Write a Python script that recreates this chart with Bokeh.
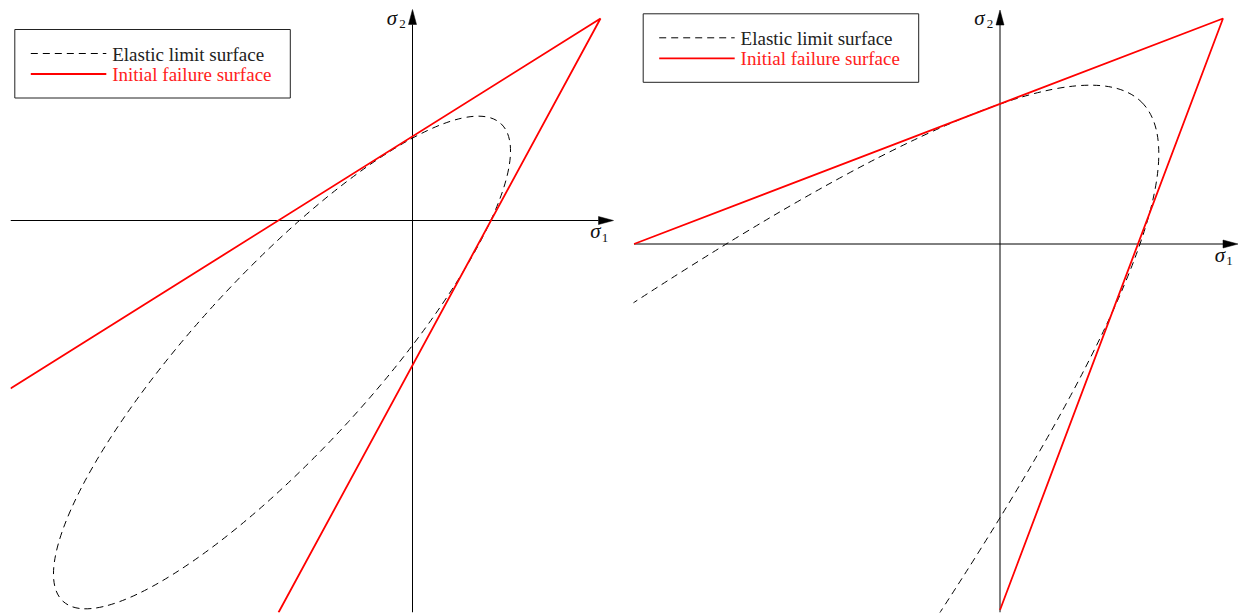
from bokeh.plotting import figure
from bokeh.layouts import row
from bokeh.models import Range1d
from bokeh.core.properties import value
from bokeh.embed import file_html
from bokeh.resources import INLINE

# ---------------------------------------------------------------
# Stress-plane data (sigma_1, sigma_2), arbitrary stress units
# ---------------------------------------------------------------
# Left: initial failure envelope (two straight branches meeting at the apex)
fail_left_s1 = [-402, 188, -134]
fail_left_s2 = [-168, 202, -392]
# Left: elastic limit surface (rotated ellipse)
elastic_left_center = (-130.5, -142.0)
elastic_left_size = (648, 178)        # major / minor axis lengths
elastic_left_angle = 47.5             # degrees

# Right: initial failure envelope
fail_right_s1 = [-366, 223, 0]
fail_right_s2 = [0, 225.5, -366]
# Right: elastic limit surface (very elongated ellipse, partly outside the view)
elastic_right_center = (-5822, -5822)
elastic_right_size = (16868, 1283)
elastic_right_angle = 45.0

# Coordinate axes: (start, tip) along sigma_1 and sigma_2
axis_left_s1 = (-402, 201)
axis_left_s2 = (-392, 211)
axis_right_s1 = (-366, 238)
axis_right_s2 = (-368.5, 234)

legend_labels = ["Elastic limit surface", "Initial failure surface"]

SERIF = value("Liberation Serif")
PANEL_W, PANEL_H = 620, 614
DASH = "7 5"


def make_panel(origin, clip, axis_s1, axis_s2, fail_s1, fail_s2,
               ell_center, ell_size, ell_angle, legend_topleft):
    ox, oy = origin
    clip_left, clip_bottom = clip

    def dx(px):
        return px - ox

    def dy(py):
        return oy - py

    p = figure(width=PANEL_W, height=PANEL_H,
               x_range=Range1d(dx(clip_left), dx(PANEL_W)),
               y_range=Range1d(dy(PANEL_H - clip_bottom), dy(0)),
               output_backend="svg", toolbar_location=None,
               x_axis_location=None, y_axis_location=None,
               min_border=0, min_border_left=clip_left,
               min_border_bottom=clip_bottom, outline_line_color=None,
               background_fill_color="white", border_fill_color="white")
    p.grid.visible = False

    # coordinate axes with filled arrow heads
    head_len, head_half = 15, 4
    p.line([axis_s1[0], axis_s1[1] - head_len], [0, 0], line_color="black", line_width=1)
    p.line([0, 0], [axis_s2[0], axis_s2[1] - head_len], line_color="black", line_width=1)
    t1, t2 = axis_s1[1], axis_s2[1]
    p.patches(
        xs=[[t1, t1 - head_len, t1 - head_len], [0, -head_half, head_half]],
        ys=[[0, head_half, -head_half], [t2, t2 - head_len, t2 - head_len]],
        fill_color="black", line_color="black", line_width=0.5)

    # elastic limit surface
    p.ellipse(x=[ell_center[0]], y=[ell_center[1]],
              width=[ell_size[0]], height=[ell_size[1]],
              angle=[ell_angle], angle_units="deg",
              fill_color=None, line_color="black", line_width=1,
              line_dash=DASH)

    # initial failure surface
    p.line(fail_s1, fail_s2, line_color="red", line_width=1.8)

    # axis labels: italic sigma with upright subscript
    p.text(x=[axis_s1[1] - 18, -20.5], y=[-10.5, axis_s2[1] - 8],
           text=["σ", "σ"], text_font=SERIF, text_font_style="italic",
           text_font_size="21px", text_align="center",
           text_baseline="alphabetic", text_color="#111111")
    p.text(x=[axis_s1[1] - 8.5, -10], y=[-17, axis_s2[1] - 14],
           text=["1", "2"], text_font=SERIF,
           text_font_size="13px", text_align="center",
           text_baseline="alphabetic", text_color="#111111")

    # legend box
    lx, ly = legend_topleft
    bw, bh = 275.5, 68.5
    p.quad(left=[dx(lx)], right=[dx(lx + bw)], top=[dy(ly)], bottom=[dy(ly + bh)],
           fill_color="white", line_color="#222222", line_width=1)
    p.line([dx(lx + 16), dx(lx + 91.5)], [dy(ly + 24)] * 2,
           line_color="black", line_width=1, line_dash=DASH)
    p.line([dx(lx + 16), dx(lx + 91.5)], [dy(ly + 44.5)] * 2,
           line_color="red", line_width=1.8)
    p.text(x=[dx(lx + 97.4)] * 2, y=[dy(ly + 25), dy(ly + 45)],
           text=legend_labels, text_color=["#222222", "#ff2020"],
           text_font=SERIF, text_font_size="19px",
           text_align="left", text_baseline="alphabetic")
    return p


left = make_panel((412, 220), (10, 2), axis_left_s1, axis_left_s2,
                  fail_left_s1, fail_left_s2,
                  elastic_left_center, elastic_left_size, elastic_left_angle,
                  (14.3, 29))
right = make_panel((379.5, 243.5), (13, 2), axis_right_s1, axis_right_s2,
                   fail_right_s1, fail_right_s2,
                   elastic_right_center, elastic_right_size, elastic_right_angle,
                   (22.7, 13.3))

layout = row(left, right, spacing=0)
open("out.html", "w").write(file_html(layout, INLINE))
